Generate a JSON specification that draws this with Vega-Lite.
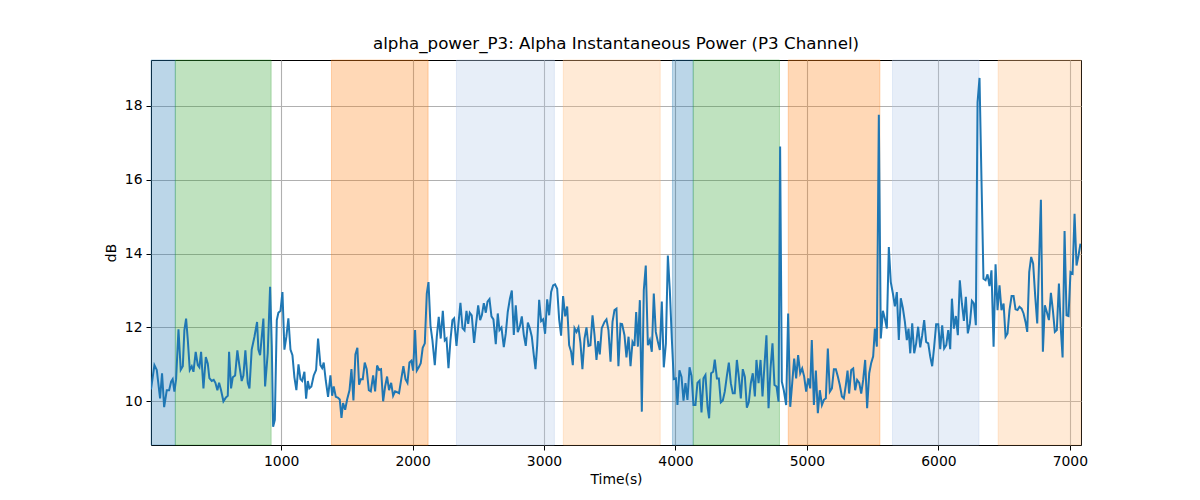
{
  "$schema": "https://vega.github.io/schema/vega-lite/v6.json",
  "description": "alpha power P3 channel over time with condition bands",
  "width": 930,
  "height": 385,
  "autosize": {"type": "none"},
  "padding": {"left": 151, "top": 60, "right": 119, "bottom": 55},
  "background": "white",
  "title": {
    "text": "alpha_power_P3: Alpha Instantaneous Power (P3 Channel)",
    "font": "DejaVu Sans",
    "fontSize": 16.7,
    "fontWeight": "normal",
    "color": "black",
    "offset": 7
  },
  "config": {
    "view": {"stroke": "black", "strokeWidth": 1},
    "axis": {
      "labelFont": "DejaVu Sans",
      "labelFontSize": 13.9,
      "labelColor": "black",
      "titleFont": "DejaVu Sans",
      "titleFontSize": 13.9,
      "titleFontWeight": "normal",
      "titleColor": "black",
      "tickColor": "black",
      "tickSize": 5,
      "labelPadding": 4,
      "domain": false,
      "gridColor": "#b0b0b0",
      "gridWidth": 1.1
    }
  },
  "datasets": {
    "bands": [
      {"start": 10, "end": 195, "band": "blue"},
      {"start": 195, "end": 924, "band": "green"},
      {"start": 1383, "end": 2118, "band": "orange"},
      {"start": 2334, "end": 3079, "band": "lightblue"},
      {"start": 3147, "end": 3884, "band": "lightorange"},
      {"start": 3977, "end": 4135, "band": "blue"},
      {"start": 4135, "end": 4791, "band": "green"},
      {"start": 4858, "end": 5555, "band": "orange"},
      {"start": 5651, "end": 6309, "band": "lightblue"},
      {"start": 6455, "end": 7085, "band": "lightorange"}
    ],
    "power": [
      {"t": 10, "db": 10.32}, {"t": 36, "db": 10.98}, {"t": 54, "db": 10.85}, {"t": 79, "db": 10.08}, {"t": 94, "db": 10.76},
      {"t": 110, "db": 9.84}, {"t": 130, "db": 10.3}, {"t": 148, "db": 10.3}, {"t": 163, "db": 10.53}, {"t": 175, "db": 10.6},
      {"t": 188, "db": 10.26}, {"t": 201, "db": 10.6}, {"t": 219, "db": 11.95}, {"t": 236, "db": 10.85}, {"t": 252, "db": 10.95},
      {"t": 264, "db": 11.93}, {"t": 277, "db": 12.24}, {"t": 290, "db": 11.66}, {"t": 305, "db": 10.85}, {"t": 320, "db": 10.95},
      {"t": 333, "db": 10.8}, {"t": 350, "db": 11.34}, {"t": 366, "db": 10.98}, {"t": 378, "db": 10.92}, {"t": 391, "db": 11.34},
      {"t": 409, "db": 10.35}, {"t": 427, "db": 11.2}, {"t": 442, "db": 11.02}, {"t": 454, "db": 10.63}, {"t": 472, "db": 10.55},
      {"t": 487, "db": 10.58}, {"t": 500, "db": 10.5}, {"t": 515, "db": 10.3}, {"t": 528, "db": 10.5}, {"t": 543, "db": 10.3},
      {"t": 561, "db": 10.0}, {"t": 579, "db": 10.1}, {"t": 594, "db": 10.15}, {"t": 604, "db": 11.34}, {"t": 619, "db": 10.35},
      {"t": 632, "db": 10.65}, {"t": 650, "db": 10.7}, {"t": 667, "db": 11.38}, {"t": 683, "db": 10.95}, {"t": 700, "db": 10.55},
      {"t": 713, "db": 10.7}, {"t": 728, "db": 11.38}, {"t": 746, "db": 10.5}, {"t": 759, "db": 10.35}, {"t": 776, "db": 11.4},
      {"t": 797, "db": 11.75}, {"t": 817, "db": 12.15}, {"t": 827, "db": 11.4}, {"t": 840, "db": 11.25}, {"t": 865, "db": 12.24},
      {"t": 878, "db": 10.4}, {"t": 898, "db": 11.3}, {"t": 916, "db": 13.1}, {"t": 929, "db": 11.5}, {"t": 939, "db": 9.31},
      {"t": 952, "db": 9.5}, {"t": 967, "db": 12.2}, {"t": 979, "db": 12.4}, {"t": 995, "db": 12.45}, {"t": 1010, "db": 12.96},
      {"t": 1025, "db": 11.4}, {"t": 1040, "db": 11.75}, {"t": 1055, "db": 12.25}, {"t": 1071, "db": 11.4}, {"t": 1086, "db": 11.25},
      {"t": 1101, "db": 10.65}, {"t": 1116, "db": 10.3}, {"t": 1132, "db": 11.0}, {"t": 1147, "db": 10.6}, {"t": 1160, "db": 10.55},
      {"t": 1177, "db": 10.8}, {"t": 1190, "db": 10.07}, {"t": 1203, "db": 10.55}, {"t": 1215, "db": 10.35}, {"t": 1230, "db": 10.4},
      {"t": 1248, "db": 10.7}, {"t": 1266, "db": 10.85}, {"t": 1281, "db": 11.7}, {"t": 1299, "db": 10.98}, {"t": 1312, "db": 10.9},
      {"t": 1324, "db": 11.05}, {"t": 1340, "db": 10.55}, {"t": 1357, "db": 10.12}, {"t": 1375, "db": 10.7}, {"t": 1388, "db": 10.15},
      {"t": 1400, "db": 10.4}, {"t": 1416, "db": 10.12}, {"t": 1431, "db": 10.1}, {"t": 1446, "db": 10.05}, {"t": 1459, "db": 9.55},
      {"t": 1471, "db": 9.95}, {"t": 1487, "db": 9.77}, {"t": 1502, "db": 10.05}, {"t": 1520, "db": 10.3}, {"t": 1535, "db": 10.87},
      {"t": 1550, "db": 10.02}, {"t": 1565, "db": 11.27}, {"t": 1580, "db": 11.45}, {"t": 1593, "db": 10.45}, {"t": 1606, "db": 10.6},
      {"t": 1621, "db": 10.6}, {"t": 1636, "db": 11.05}, {"t": 1651, "db": 10.87}, {"t": 1667, "db": 10.3}, {"t": 1682, "db": 10.27},
      {"t": 1700, "db": 10.7}, {"t": 1715, "db": 10.27}, {"t": 1730, "db": 10.97}, {"t": 1745, "db": 10.85}, {"t": 1760, "db": 10.87},
      {"t": 1776, "db": 10.0}, {"t": 1791, "db": 10.4}, {"t": 1806, "db": 10.67}, {"t": 1821, "db": 10.3}, {"t": 1837, "db": 10.5},
      {"t": 1852, "db": 10.15}, {"t": 1867, "db": 10.27}, {"t": 1882, "db": 10.25}, {"t": 1897, "db": 10.22}, {"t": 1915, "db": 10.63},
      {"t": 1930, "db": 10.95}, {"t": 1946, "db": 10.6}, {"t": 1961, "db": 10.5}, {"t": 1976, "db": 11.05}, {"t": 1991, "db": 11.1},
      {"t": 2004, "db": 10.83}, {"t": 2019, "db": 11.93}, {"t": 2032, "db": 10.83}, {"t": 2047, "db": 10.92}, {"t": 2062, "db": 11.03},
      {"t": 2077, "db": 11.45}, {"t": 2093, "db": 11.57}, {"t": 2108, "db": 12.92}, {"t": 2121, "db": 13.23}, {"t": 2136, "db": 12.05},
      {"t": 2151, "db": 11.65}, {"t": 2169, "db": 10.98}, {"t": 2184, "db": 11.74}, {"t": 2199, "db": 12.29}, {"t": 2214, "db": 11.7},
      {"t": 2230, "db": 12.45}, {"t": 2245, "db": 11.65}, {"t": 2258, "db": 11.7}, {"t": 2273, "db": 10.9}, {"t": 2288, "db": 11.65},
      {"t": 2303, "db": 12.2}, {"t": 2316, "db": 12.25}, {"t": 2334, "db": 11.5}, {"t": 2349, "db": 12.1}, {"t": 2364, "db": 12.67},
      {"t": 2380, "db": 11.98}, {"t": 2395, "db": 11.92}, {"t": 2410, "db": 12.45}, {"t": 2423, "db": 12.1}, {"t": 2435, "db": 12.4},
      {"t": 2450, "db": 12.33}, {"t": 2468, "db": 11.58}, {"t": 2483, "db": 12.1}, {"t": 2499, "db": 12.6}, {"t": 2514, "db": 12.2},
      {"t": 2527, "db": 12.33}, {"t": 2542, "db": 12.66}, {"t": 2557, "db": 12.4}, {"t": 2570, "db": 12.7}, {"t": 2585, "db": 12.77},
      {"t": 2600, "db": 12.3}, {"t": 2615, "db": 12.22}, {"t": 2633, "db": 11.55}, {"t": 2648, "db": 12.38}, {"t": 2661, "db": 11.93},
      {"t": 2676, "db": 12.0}, {"t": 2694, "db": 11.47}, {"t": 2709, "db": 11.84}, {"t": 2724, "db": 12.42}, {"t": 2740, "db": 12.77},
      {"t": 2755, "db": 13.0}, {"t": 2770, "db": 11.8}, {"t": 2785, "db": 12.6}, {"t": 2800, "db": 11.87}, {"t": 2816, "db": 12.03},
      {"t": 2831, "db": 12.3}, {"t": 2846, "db": 11.8}, {"t": 2861, "db": 11.5}, {"t": 2877, "db": 12.13}, {"t": 2892, "db": 11.98},
      {"t": 2907, "db": 11.75}, {"t": 2922, "db": 11.26}, {"t": 2935, "db": 10.87}, {"t": 2948, "db": 11.52}, {"t": 2963, "db": 12.75},
      {"t": 2978, "db": 12.17}, {"t": 2993, "db": 12.22}, {"t": 3008, "db": 11.83}, {"t": 3024, "db": 12.76}, {"t": 3039, "db": 12.33},
      {"t": 3054, "db": 12.96}, {"t": 3069, "db": 13.14}, {"t": 3084, "db": 13.17}, {"t": 3100, "db": 13.05}, {"t": 3115, "db": 12.22},
      {"t": 3130, "db": 11.78}, {"t": 3145, "db": 12.85}, {"t": 3161, "db": 12.3}, {"t": 3176, "db": 12.57}, {"t": 3191, "db": 11.52},
      {"t": 3206, "db": 11.34}, {"t": 3219, "db": 10.98}, {"t": 3232, "db": 11.98}, {"t": 3247, "db": 11.88}, {"t": 3262, "db": 12.0},
      {"t": 3277, "db": 11.58}, {"t": 3292, "db": 10.87}, {"t": 3308, "db": 11.7}, {"t": 3323, "db": 12.0}, {"t": 3338, "db": 11.5},
      {"t": 3353, "db": 11.52}, {"t": 3369, "db": 12.33}, {"t": 3384, "db": 11.8}, {"t": 3399, "db": 11.12}, {"t": 3412, "db": 11.63},
      {"t": 3424, "db": 11.27}, {"t": 3439, "db": 11.98}, {"t": 3460, "db": 12.15}, {"t": 3475, "db": 12.22}, {"t": 3490, "db": 11.93},
      {"t": 3506, "db": 11.07}, {"t": 3521, "db": 12.15}, {"t": 3536, "db": 12.47}, {"t": 3551, "db": 12.51}, {"t": 3566, "db": 10.95},
      {"t": 3582, "db": 12.1}, {"t": 3594, "db": 12.09}, {"t": 3612, "db": 11.79}, {"t": 3627, "db": 11.19}, {"t": 3643, "db": 11.75},
      {"t": 3658, "db": 10.95}, {"t": 3673, "db": 11.61}, {"t": 3688, "db": 11.5}, {"t": 3701, "db": 12.42}, {"t": 3714, "db": 11.48},
      {"t": 3729, "db": 12.74}, {"t": 3744, "db": 9.72}, {"t": 3759, "db": 13.01}, {"t": 3774, "db": 13.68}, {"t": 3790, "db": 11.52},
      {"t": 3805, "db": 11.66}, {"t": 3820, "db": 11.34}, {"t": 3835, "db": 12.92}, {"t": 3850, "db": 11.88}, {"t": 3866, "db": 11.61},
      {"t": 3881, "db": 11.39}, {"t": 3896, "db": 12.7}, {"t": 3911, "db": 10.92}, {"t": 3927, "db": 11.57}, {"t": 3942, "db": 13.95},
      {"t": 3957, "db": 13.01}, {"t": 3972, "db": 11.7}, {"t": 3987, "db": 10.6}, {"t": 4003, "db": 10.62}, {"t": 4015, "db": 9.9},
      {"t": 4030, "db": 10.84}, {"t": 4046, "db": 10.66}, {"t": 4061, "db": 10.02}, {"t": 4076, "db": 10.49}, {"t": 4091, "db": 10.04},
      {"t": 4107, "db": 10.92}, {"t": 4122, "db": 10.69}, {"t": 4137, "db": 9.9}, {"t": 4152, "db": 9.9}, {"t": 4167, "db": 10.5},
      {"t": 4183, "db": 10.56}, {"t": 4198, "db": 9.7}, {"t": 4213, "db": 10.62}, {"t": 4228, "db": 10.71}, {"t": 4244, "db": 9.85},
      {"t": 4256, "db": 9.54}, {"t": 4271, "db": 10.76}, {"t": 4287, "db": 10.8}, {"t": 4299, "db": 11.13}, {"t": 4315, "db": 10.62},
      {"t": 4330, "db": 10.62}, {"t": 4345, "db": 9.97}, {"t": 4360, "db": 10.02}, {"t": 4375, "db": 10.26}, {"t": 4391, "db": 10.69},
      {"t": 4406, "db": 11.05}, {"t": 4421, "db": 10.49}, {"t": 4436, "db": 10.22}, {"t": 4451, "db": 10.22}, {"t": 4467, "db": 11.12},
      {"t": 4482, "db": 10.66}, {"t": 4497, "db": 10.08}, {"t": 4512, "db": 10.87}, {"t": 4528, "db": 10.66}, {"t": 4543, "db": 9.83},
      {"t": 4558, "db": 9.98}, {"t": 4573, "db": 10.49}, {"t": 4588, "db": 10.76}, {"t": 4604, "db": 10.13}, {"t": 4616, "db": 11.12},
      {"t": 4632, "db": 10.49}, {"t": 4647, "db": 11.12}, {"t": 4662, "db": 10.13}, {"t": 4677, "db": 10.98}, {"t": 4692, "db": 11.79},
      {"t": 4708, "db": 9.81}, {"t": 4723, "db": 10.89}, {"t": 4738, "db": 11.57}, {"t": 4753, "db": 10.44}, {"t": 4769, "db": 10.4},
      {"t": 4784, "db": 9.99}, {"t": 4796, "db": 16.9}, {"t": 4809, "db": 10.53}, {"t": 4824, "db": 10.3}, {"t": 4842, "db": 9.9},
      {"t": 4857, "db": 12.38}, {"t": 4873, "db": 9.85}, {"t": 4888, "db": 10.49}, {"t": 4903, "db": 11.16}, {"t": 4918, "db": 10.62},
      {"t": 4933, "db": 11.25}, {"t": 4949, "db": 10.76}, {"t": 4964, "db": 10.89}, {"t": 4979, "db": 10.67}, {"t": 4994, "db": 10.26},
      {"t": 5010, "db": 10.62}, {"t": 5025, "db": 10.35}, {"t": 5037, "db": 11.66}, {"t": 5053, "db": 9.9}, {"t": 5068, "db": 10.83},
      {"t": 5083, "db": 9.68}, {"t": 5098, "db": 10.3}, {"t": 5114, "db": 9.9}, {"t": 5129, "db": 10.04}, {"t": 5144, "db": 10.08},
      {"t": 5159, "db": 11.43}, {"t": 5174, "db": 10.26}, {"t": 5190, "db": 10.35}, {"t": 5205, "db": 10.87}, {"t": 5220, "db": 10.87},
      {"t": 5235, "db": 10.67}, {"t": 5250, "db": 10.44}, {"t": 5266, "db": 10.13}, {"t": 5281, "db": 10.08}, {"t": 5296, "db": 10.44},
      {"t": 5309, "db": 10.83}, {"t": 5321, "db": 10.21}, {"t": 5337, "db": 10.85}, {"t": 5352, "db": 10.89}, {"t": 5367, "db": 10.3},
      {"t": 5382, "db": 10.58}, {"t": 5398, "db": 10.5}, {"t": 5413, "db": 10.21}, {"t": 5428, "db": 10.58}, {"t": 5443, "db": 11.12},
      {"t": 5458, "db": 9.81}, {"t": 5474, "db": 10.76}, {"t": 5489, "db": 11.04}, {"t": 5504, "db": 11.22}, {"t": 5517, "db": 11.97},
      {"t": 5532, "db": 11.48}, {"t": 5547, "db": 17.76}, {"t": 5562, "db": 11.7}, {"t": 5578, "db": 12.45}, {"t": 5593, "db": 12.24},
      {"t": 5608, "db": 11.97}, {"t": 5623, "db": 14.18}, {"t": 5638, "db": 13.23}, {"t": 5654, "db": 12.92}, {"t": 5669, "db": 12.57},
      {"t": 5684, "db": 12.96}, {"t": 5699, "db": 11.66}, {"t": 5714, "db": 12.79}, {"t": 5730, "db": 12.52}, {"t": 5745, "db": 12.16},
      {"t": 5760, "db": 11.66}, {"t": 5773, "db": 11.97}, {"t": 5786, "db": 11.3}, {"t": 5801, "db": 12.11}, {"t": 5816, "db": 11.3},
      {"t": 5831, "db": 11.57}, {"t": 5846, "db": 12.02}, {"t": 5862, "db": 11.46}, {"t": 5877, "db": 11.79}, {"t": 5892, "db": 12.2},
      {"t": 5907, "db": 11.61}, {"t": 5923, "db": 11.57}, {"t": 5938, "db": 11.21}, {"t": 5953, "db": 10.95}, {"t": 5968, "db": 11.48},
      {"t": 5983, "db": 12.09}, {"t": 5999, "db": 12.09}, {"t": 6014, "db": 11.41}, {"t": 6029, "db": 12.06}, {"t": 6044, "db": 11.43},
      {"t": 6060, "db": 11.52}, {"t": 6075, "db": 11.93}, {"t": 6090, "db": 11.41}, {"t": 6103, "db": 12.78}, {"t": 6118, "db": 11.97},
      {"t": 6133, "db": 12.31}, {"t": 6148, "db": 11.79}, {"t": 6163, "db": 13.28}, {"t": 6179, "db": 12.65}, {"t": 6194, "db": 12.18},
      {"t": 6209, "db": 12.83}, {"t": 6224, "db": 11.84}, {"t": 6240, "db": 12.11}, {"t": 6255, "db": 12.72}, {"t": 6270, "db": 12.65},
      {"t": 6285, "db": 12.06}, {"t": 6298, "db": 18.1}, {"t": 6313, "db": 18.76}, {"t": 6328, "db": 15.98}, {"t": 6343, "db": 13.32},
      {"t": 6359, "db": 13.28}, {"t": 6374, "db": 13.44}, {"t": 6389, "db": 13.12}, {"t": 6404, "db": 13.55}, {"t": 6420, "db": 11.48},
      {"t": 6435, "db": 13.71}, {"t": 6450, "db": 12.47}, {"t": 6465, "db": 13.14}, {"t": 6480, "db": 12.47}, {"t": 6496, "db": 12.65},
      {"t": 6511, "db": 11.75}, {"t": 6526, "db": 11.84}, {"t": 6541, "db": 12.47}, {"t": 6557, "db": 12.85}, {"t": 6572, "db": 12.85},
      {"t": 6587, "db": 12.49}, {"t": 6602, "db": 12.47}, {"t": 6617, "db": 12.56}, {"t": 6633, "db": 12.51}, {"t": 6648, "db": 12.38},
      {"t": 6663, "db": 12.15}, {"t": 6676, "db": 11.88}, {"t": 6691, "db": 13.5}, {"t": 6706, "db": 13.91}, {"t": 6721, "db": 13.73},
      {"t": 6737, "db": 12.83}, {"t": 6752, "db": 12.11}, {"t": 6767, "db": 13.91}, {"t": 6780, "db": 15.46}, {"t": 6795, "db": 11.34},
      {"t": 6810, "db": 12.6}, {"t": 6825, "db": 12.42}, {"t": 6841, "db": 12.2}, {"t": 6856, "db": 12.94}, {"t": 6871, "db": 12.47},
      {"t": 6886, "db": 11.88}, {"t": 6901, "db": 11.93}, {"t": 6917, "db": 13.19}, {"t": 6932, "db": 11.93}, {"t": 6945, "db": 11.19},
      {"t": 6960, "db": 14.61}, {"t": 6975, "db": 12.33}, {"t": 6990, "db": 12.31}, {"t": 7005, "db": 13.5}, {"t": 7021, "db": 13.46},
      {"t": 7036, "db": 15.08}, {"t": 7051, "db": 13.68}, {"t": 7066, "db": 13.95}, {"t": 7081, "db": 14.27}
    ]
  },
  "layer": [
    {
      "data": {"name": "bands"},
      "mark": {"type": "rect", "fillOpacity": 0.3, "strokeOpacity": 0.3, "strokeWidth": 1},
      "encoding": {
        "x": {"field": "start", "type": "quantitative"},
        "x2": {"field": "end"},
        "color": {
          "field": "band",
          "type": "nominal",
          "legend": null,
          "scale": {
            "domain": ["blue", "green", "orange", "lightblue", "lightorange"],
            "range": ["#1f77b4", "#2ca02c", "#ff7f0e", "#aec7e8", "#ffbb78"]
          }
        },
        "stroke": {
          "field": "band",
          "type": "nominal",
          "legend": null,
          "scale": {
            "domain": ["blue", "green", "orange", "lightblue", "lightorange"],
            "range": ["#1f77b4", "#2ca02c", "#ff7f0e", "#aec7e8", "#ffbb78"]
          }
        }
      }
    },
    {
      "data": {"name": "power"},
      "mark": {"type": "line", "color": "#1f77b4", "strokeWidth": 2, "clip": true},
      "encoding": {
        "x": {
          "field": "t",
          "type": "quantitative",
          "scale": {"domain": [10, 7085], "nice": false, "zero": false},
          "axis": {"title": "Time(s)", "format": "d", "values": [1000, 2000, 3000, 4000, 5000, 6000, 7000], "grid": true, "titlePadding": 5}
        },
        "y": {
          "field": "db",
          "type": "quantitative",
          "scale": {"domain": [8.816, 19.246], "nice": false, "zero": false},
          "axis": {"title": "dB", "values": [10, 12, 14, 16, 18], "grid": true, "titlePadding": 6}
        }
      }
    }
  ]
}
